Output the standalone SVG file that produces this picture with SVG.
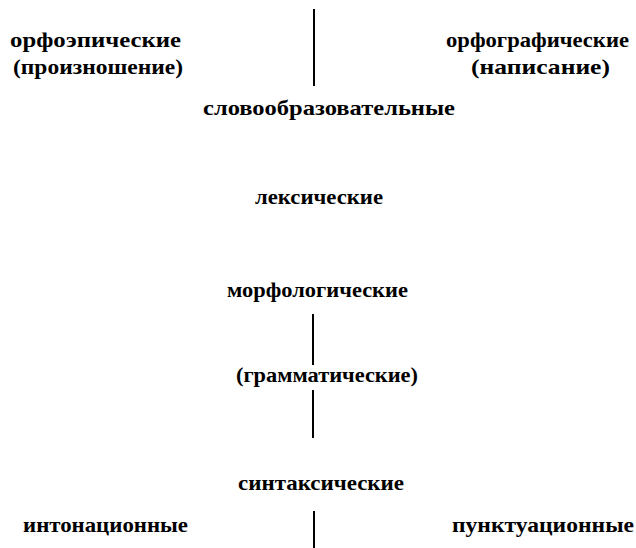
<svg xmlns="http://www.w3.org/2000/svg" width="636" height="548" viewBox="0 0 636 548">
<style>
line{stroke:#000;stroke-width:2}
</style>
<rect width="636" height="548" fill="#fff"/>
<g id="connectors">
<line x1="314" y1="9" x2="314" y2="86"/>
<line x1="313" y1="314" x2="313" y2="365"/>
<line x1="313" y1="390" x2="313" y2="438"/>
<line x1="314" y1="511" x2="314" y2="548"/>
</g>
<g font-family="Liberation Serif" font-weight="bold" font-size="22" fill="#000">
<g id="orthoepic"><text x="10" y="47" textLength="171" lengthAdjust="spacingAndGlyphs">орфоэпические</text>
<text x="13" y="74" textLength="170" lengthAdjust="spacingAndGlyphs">(произношение)</text></g>
<g id="orthographic"><text x="446" y="47" textLength="183" lengthAdjust="spacingAndGlyphs">орфографические</text>
<text x="471" y="74" textLength="139" lengthAdjust="spacingAndGlyphs">(написание)</text></g>
<g id="wordformation"><text x="203" y="115" textLength="252" lengthAdjust="spacingAndGlyphs">словообразовательные</text></g>
<g id="lexical"><text x="255" y="204" textLength="128" lengthAdjust="spacingAndGlyphs">лексические</text></g>
<g id="morphological"><text x="227" y="297" textLength="181" lengthAdjust="spacingAndGlyphs">морфологические</text></g>
<g id="grammatical"><text x="236" y="382" textLength="182" lengthAdjust="spacingAndGlyphs">(грамматические)</text></g>
<g id="syntactic"><text x="238" y="490" textLength="166" lengthAdjust="spacingAndGlyphs">синтаксические</text></g>
<g id="intonation"><text x="23" y="532" textLength="165" lengthAdjust="spacingAndGlyphs">интонационные</text></g>
<g id="punctuation"><text x="452" y="532" textLength="182" lengthAdjust="spacingAndGlyphs">пунктуационные</text></g>
</g>
</svg>
